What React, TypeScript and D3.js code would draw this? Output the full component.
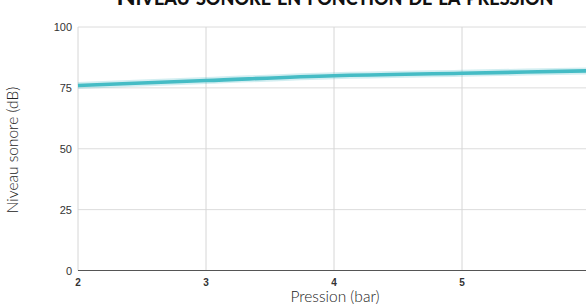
import React from "react";
import * as d3 from "d3";

const pressures = [2, 3, 4, 5, 6];
const levels = [76, 78, 80, 81, 82];
const xTicks = [2, 3, 4, 5];
const yTicks = [0, 25, 50, 75, 100];
const title = "Niveau sonore en fonction de la pression";
const xLabel = "Pression (bar)";
const yLabel = "Niveau sonore (dB)";

export default function App() {
  const W = 586, H = 307;
  const x = d3.scaleLinear().domain([2, 6]).range([78, 590]);
  const y = d3.scaleLinear().domain([0, 100]).range([270.5, 27]);
  const data = pressures.map((p, i) => [p, levels[i]] as [number, number]);
  const line = d3.line<[number, number]>().x(d => x(d[0])).y(d => y(d[1])).curve(d3.curveMonotoneX);
  const path = line(data) || "";
  return (
    <svg width={W} height={H} style={{ position: "fixed", left: 0, top: 0, background: "#fff" }}>
      <defs>
        <clipPath id="plot"><rect x={70} y={0} width={W - 70} height={H} /></clipPath>
      </defs>
      {yTicks.filter(t => t > 0).map(t => (
        <line key={"gy" + t} x1={78} x2={W} y1={y(t)} y2={y(t)} stroke="#dcdcdc" strokeWidth={1} />
      ))}
      {xTicks.map(t => (
        <line key={"gx" + t} x1={x(t)} x2={x(t)} y1={y(100)} y2={y(0)} stroke="#d6d6d6" strokeWidth={1} />
      ))}
      <line x1={78} x2={W} y1={y(0)} y2={y(0)} stroke="#555" strokeWidth={1.2} />
      <g clipPath="url(#plot)">
        <path d={path} fill="none" stroke="#4bbdc6" strokeOpacity={0.25} strokeWidth={7} />
        <path d={path} fill="none" stroke="#45bcc5" strokeWidth={3.6} />
      </g>
      {yTicks.map(t => (
        <text key={"ty" + t} x={72} y={y(t) + 4} textAnchor="end" fontFamily="Liberation Sans, Arial, sans-serif" fontSize={11} fill="#333">{t}</text>
      ))}
      {xTicks.map(t => (
        <text key={"tx" + t} x={x(t)} y={286} textAnchor="middle" fontFamily="Liberation Sans, Arial, sans-serif" fontSize={10} fontWeight="bold" fill="#333">{t}</text>
      ))}
      <text x={335} y={5} textAnchor="middle" fontFamily="Lato, sans-serif" fontWeight="900" fontSize={25} fill="#111" style={{ fontVariant: "small-caps" }}>{title}</text>
      <text x={335} y={302} textAnchor="middle" fontFamily="Lato, sans-serif" fontWeight={300} fontSize={15.5} fill="#222">{xLabel}</text>
      <text transform={`translate(18,150) rotate(-90)`} textAnchor="middle" fontFamily="Lato, sans-serif" fontWeight={300} fontSize={15.5} fill="#222">{yLabel}</text>
    </svg>
  );
}
